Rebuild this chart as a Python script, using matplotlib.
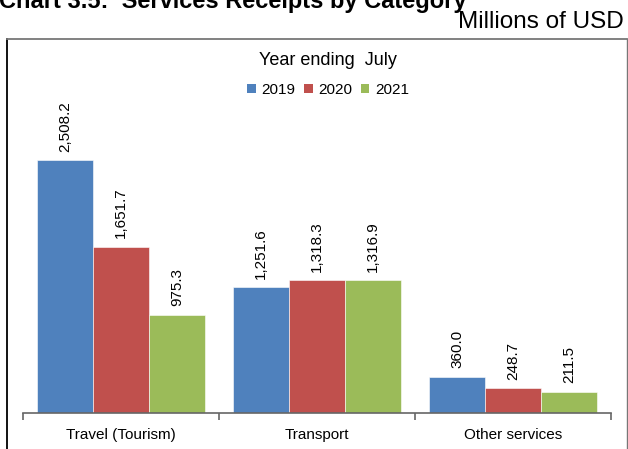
import matplotlib
matplotlib.use("Agg")
import matplotlib.pyplot as plt
from matplotlib.lines import Line2D
from matplotlib.patches import Patch
import numpy as np

plt.rcParams['font.family'] = ['Liberation Sans', 'DejaVu Sans']

categories = ["Travel (Tourism)", "Transport", "Other services"]
years = ["2019", "2020", "2021"]
receipts = {
    "2019": [2508.2, 1251.6, 360.0],
    "2020": [1651.7, 1318.3, 248.7],
    "2021": [975.3, 1316.9, 211.5],
}
colors = ["#4F81BD", "#C0504D", "#9BBB59"]

W, H = 628, 449
fig = plt.figure(figsize=(W / 100, H / 100), dpi=100)
fig.patch.set_facecolor("white")

# axes placed in pixel terms: x 23..611, y 45..413 (from top)
ax = fig.add_axes([23 / W, (H - 413) / H, (611 - 23) / W, (413 - 45) / H])
x = np.arange(len(categories))
bw = 0.285
for i, yr in enumerate(years):
    vals = receipts[yr]
    pos = x + (i - 1) * bw
    ax.bar(pos, vals, width=bw, color=colors[i], edgecolor="white", linewidth=0.4, zorder=2)
    for px, v in zip(pos, vals):
        ax.annotate(f"{v:,.1f}", (px, v), xytext=(0, 6), textcoords="offset points",
                    rotation=90, ha="center", va="bottom", fontsize=11, color="black")

ax.set_xlim(-0.5, 2.5)
ax.set_ylim(0, 367 / 0.1005)
for s in ["top", "right", "left"]:
    ax.spines[s].set_visible(False)
ax.spines["bottom"].set_color("#666666")
ax.spines["bottom"].set_linewidth(1.2)
ax.set_yticks([])
ax.set_xticks(x)
ax.set_xticklabels(categories, fontsize=11)
ax.tick_params(axis="x", which="major", length=0, pad=11)
ax.set_xticks([-0.5, 0.5, 1.5, 2.5], minor=True)
ax.tick_params(axis="x", which="minor", length=5, width=1.2, color="#666666", direction="out")

handles = [Patch(facecolor=c, edgecolor="none") for c in colors]
leg = ax.legend(handles, years, title="Year ending  July", ncol=3, frameon=False,
                loc="upper center", bbox_to_anchor=(328 / W, 1 - 46 / H),
                bbox_transform=fig.transFigure, fontsize=11, title_fontsize=13,
                handlelength=0.55, handleheight=0.55, handletextpad=0.35,
                columnspacing=0.6, borderaxespad=0, labelspacing=0.9)

# outer frame
fig.add_artist(Line2D([7 / W, 7 / W], [0, 1 - 39 / H], color="black", lw=1.3))
fig.add_artist(Line2D([7 / W, 627 / W], [1 - 39 / H, 1 - 39 / H], color="#777777", lw=1.3))
fig.add_artist(Line2D([627 / W, 627 / W], [0, 1 - 39 / H], color="#777777", lw=1.0))

fig.text(-1 / W, 1 - 8 / H, "Chart 3.5:  Services Receipts by Category", fontsize=17,
         fontweight="bold", ha="left", va="baseline")
fig.text(624 / W, 1 - 28 / H, "Millions of USD", fontsize=17.5, ha="right", va="baseline")

fig.savefig("out.png", dpi=100)
